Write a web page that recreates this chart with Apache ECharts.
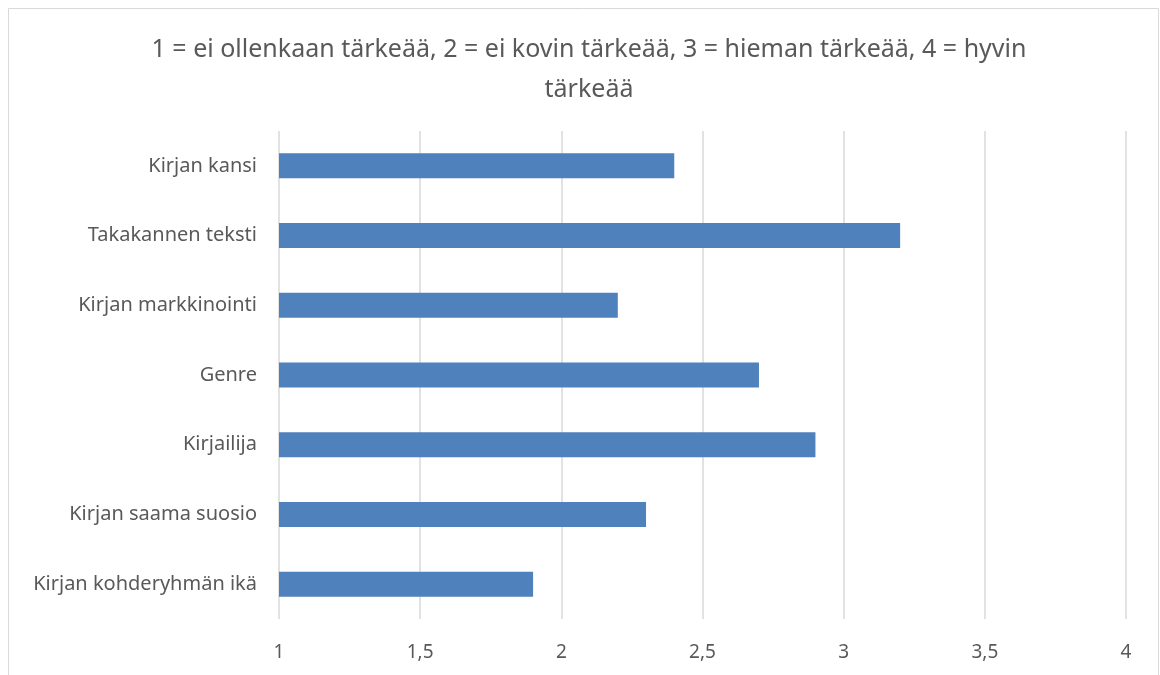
<!DOCTYPE html>
<html>
<head>
<meta charset="utf-8">
<script src="https://cdn.jsdelivr.net/npm/echarts@6/dist/echarts.min.js"></script>
<style>
  html, body { margin: 0; padding: 0; background: #fff; }
  #main { width: 1160px; height: 675px; }
</style>
</head>
<body>
<div id="main"></div>
<script>
var categories = ['Kirjan kansi', 'Takakannen teksti', 'Kirjan markkinointi', 'Genre', 'Kirjailija', 'Kirjan saama suosio', 'Kirjan kohderyhmän ikä']
var values = [2.4, 3.2, 2.2, 2.7, 2.9, 2.3, 1.9]
var titleText = '1 = ei ollenkaan tärkeää, 2 = ei kovin tärkeää, 3 = hieman tärkeää, 4 = hyvin\ntärkeää'

var myChart = echarts.init(document.getElementById('main'))
var font = 'Noto Sans, sans-serif'
var option = {
  backgroundColor: '#fff',
  title: {
    text: titleText,
    left: 584,
    textAlign: 'center',
    top: 25,
    textStyle: {
      color: '#595959',
      fontSize: 25,
      fontWeight: 'normal',
      fontFamily: font,
      lineHeight: 40
    }
  },
  graphic: [
    { // 外框
      type: 'rect',
      shape: { x: 8.5, y: 8.5, width: 1150, height: 680 },
      style: { fill: 'none', stroke: '#d9d9d9', lineWidth: 1 },
      silent: true
    }
  ],
  grid: { left: 279, right: 34, top: 131, bottom: 56 },
  xAxis: {
    type: 'value',
    min: 1,
    max: 4,
    interval: 0.5,
    axisLine: { show: false },
    axisTick: { show: false },
    axisLabel: {
      color: '#595959',
      fontSize: 19,
      fontFamily: font,
      margin: 24,
      formatter: function (v) { return String(v).replace('.', ',') }
    },
    splitLine: { lineStyle: { color: '#d9d9d9', width: 1.5 } }
  },
  yAxis: {
    type: 'category',
    data: categories,
    inverse: true,
    axisLine: { show: false },
    axisTick: { show: false },
    axisLabel: {
      color: '#595959',
      fontSize: 20,
      fontFamily: font,
      margin: 22
    }
  },
  series: [
    {
      type: 'bar',
      data: values,
      barWidth: 25,
      itemStyle: { color: '#4f81bd' }
    }
  ]
}
myChart.setOption(option)
</script>
</body>
</html>
